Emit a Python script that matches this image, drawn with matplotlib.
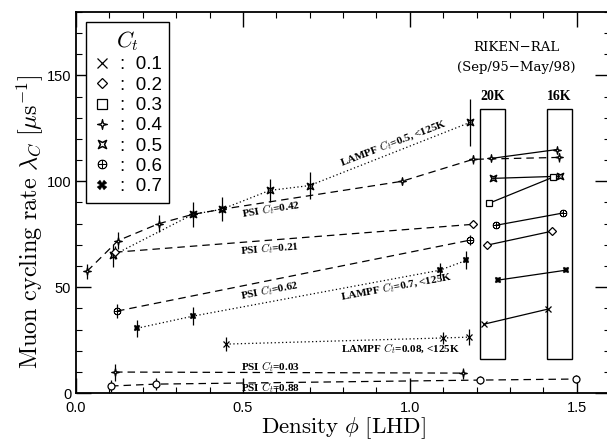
import numpy as np
import matplotlib
matplotlib.use('Agg')
import matplotlib.pyplot as plt
from matplotlib.path import Path
from matplotlib.lines import Line2D
from matplotlib.patches import Rectangle

plt.rcParams['mathtext.fontset'] = 'cm'

# ---- data ----
# LAMPF Ct=0.5, <125K  (dotted)
l05_x = [0.11, 0.35, 0.437, 0.58, 0.70, 1.18]
l05_y = [65, 84.4, 86.8, 95.7, 98, 127.8]
l05_e = [5.5, 6, 5.7, 5.5, 6.5, 11]
# PSI Ct=0.42 (dashed)
p42_x = [0.033, 0.126, 0.248, 0.35, 0.437, 0.976, 1.19, 1.446]
p42_y = [57.5, 72, 80, 84.4, 86.8, 100, 110.4, 111.3]
p42_e = [3.5, 4, 4, 0, 0, 1.5, 2, 2]
# PSI Ct=0.21
p21_x = [0.117, 1.19]
p21_y = [66.5, 79.7]
p21_e = [3, 1.5]
# PSI Ct=0.62
p62_x = [0.123, 1.18]
p62_y = [38.7, 72.2]
p62_e = [3.5, 2.5]
# LAMPF Ct=0.7, <125K
l07_x = [0.183, 0.35, 1.09, 1.17]
l07_y = [30.6, 36.3, 58, 62.7]
l07_e = [4, 4.3, 3.5, 4.3]
# LAMPF Ct=0.08, <125K
l008_x = [0.449, 1.10, 1.177]
l008_y = [23.1, 26, 26.4]
l008_e = [3.4, 2.9, 3.7]
# PSI Ct=0.03
p03_x = [0.117, 1.16]
p03_y = [9.9, 9.4]
p03_e = [4, 2.6]
# PSI Ct=0.88
p88_x = [0.105, 0.24, 1.21, 1.497]
p88_y = [3.3, 4.2, 6.1, 6.6]
p88_e = [3, 3, 2, 2]

# RIKEN-RAL, 20K -> 16K pairs
rk_ct = ['0.4', '0.5', '0.3', '0.6', '0.2', '0.7', '0.1']
rk_x20 = [1.243, 1.249, 1.237, 1.257, 1.23, 1.263, 1.222]
rk_y20 = [110.8, 101.4, 89.6, 79.2, 69.8, 53.3, 32.5]
rk_x16 = [1.44, 1.449, 1.43, 1.458, 1.425, 1.467, 1.413]
rk_y16 = [115, 102.4, 102, 85, 76.4, 58, 39.6]

legend_ct = ['0.1', '0.2', '0.3', '0.4', '0.5', '0.6', '0.7']

# ---- marker shapes ----
concave_sq = Path([(-1, -1), (0, -0.5), (1, -1), (0.5, 0), (1, 1), (0, 0.5),
                   (-1, 1), (-0.5, 0), (-1, -1)], closed=True)
star4 = Path([(0, 1.6), (0.3, 0.3), (1.6, 0), (0.3, -0.3), (0, -1.6), (-0.3, -0.3),
              (-1.6, 0), (-0.3, 0.3), (0, 1.6)], closed=True)

mk = {
    '0.1': dict(marker='x', ms=5, mew=0.9),
    '0.2': dict(marker='D', ms=4, mfc='white', mew=0.9),
    '0.3': dict(marker='s', ms=5, mfc='white', mew=0.9),
    '0.4': dict(marker=star4, ms=5.5, mfc='white', mew=0.9),
    '0.5': dict(marker=concave_sq, ms=4.5, mfc='none', mew=1.1),
    '0.6': dict(marker=r'$\oplus$', ms=5, mew=0.5),
    '0.7': dict(marker='X', ms=5, mew=0.2),
}

fig = plt.figure(figsize=(6.07, 4.40), dpi=100)
ax = fig.add_axes([76 / 607, 47 / 440, 534 / 607, 381 / 440])


def series(x, y, e, ct, ls, lw=0.9):
    ax.errorbar(x, y, yerr=e, fmt='none', ecolor='k', elinewidth=0.9, capsize=0, zorder=2)
    ax.plot(x, y, color='k', ls=ls, lw=lw, zorder=3, **mk[ct])


dashed = (0, (6, 4))
dotted = (0, (1, 2))
series(p42_x, p42_y, p42_e, '0.4', dashed)
series(l05_x, l05_y, l05_e, '0.5', dotted)
series(p21_x, p21_y, p21_e, '0.2', dashed)
series(p62_x, p62_y, p62_e, '0.6', dashed)
series(l07_x, l07_y, l07_e, '0.7', dotted)
series(l008_x, l008_y, l008_e, '0.1', dotted)
series(p03_x, p03_y, p03_e, '0.4', dashed)
ax.errorbar(p88_x, p88_y, yerr=p88_e, fmt='none', ecolor='k', elinewidth=0.9, capsize=0)
ax.plot(p88_x, p88_y, color='k', ls=dashed, lw=0.9, marker='o', ms=5, mfc='white', mew=0.9)

for i, ct in enumerate(rk_ct):
    ax.plot([rk_x20[i], rk_x16[i]], [rk_y20[i], rk_y16[i]], color='k', lw=0.9, zorder=3, **mk[ct])

# boxes around the 20K and 16K points
for bx, lab in [(1.21, '20K'), (1.41, '16K')]:
    ax.add_patch(Rectangle((bx, 16), 0.076, 118.4, fill=False, ec='k', lw=1.0))
    ax.text(bx + 0.038, 137, lab, ha='center', va='bottom', fontsize=10,
            family='Liberation Serif', weight='bold')
ax.text(1.318, 163, 'RIKEN\u2212RAL', ha='center', va='center', fontsize=9.5, family='DejaVu Serif')
ax.text(1.318, 154, '(Sep/95\u2212May/98)', ha='center', va='center', fontsize=9.5, family='DejaVu Serif')

# in-plot labels
lbl = dict(fontsize=8, family='Liberation Serif', weight='bold', ha='center', va='center')
ax.text(0.95, 118, r'LAMPF $C_t$=0.5, <125K', rotation=21, **lbl)
ax.text(0.585, 87, r'PSI $C_t$=0.42', rotation=9, **lbl)
ax.text(0.58, 68.4, r'PSI $C_t$=0.21', rotation=4.5, **lbl)
ax.text(0.58, 48.6, r'PSI $C_t$=0.62', rotation=11, **lbl)
ax.text(0.96, 50.5, r'LAMPF $C_t$=0.7, <125K', rotation=10.5, **lbl)
ax.text(0.973, 21.2, r'LAMPF $C_t$=0.08, <125K', **lbl)
ax.text(0.583, 12.7, r'PSI $C_t$=0.03', **lbl)
ax.text(0.583, 2.4, r'PSI $C_t$=0.88', **lbl)

# legend
handles = [Line2D([], [], color='k', ls='none', **dict(mk[c], ms=mk[c]['ms'] * 1.3)) for c in legend_ct]
leg = ax.legend(handles, [':  ' + c for c in legend_ct], title=r'$C_t$', loc='upper left',
                bbox_to_anchor=(0.019, 0.974), borderaxespad=0, fancybox=False,
                edgecolor='k', framealpha=1, handlelength=0.9, handletextpad=0.5,
                labelspacing=0.17, borderpad=0.4,
                prop={'family': 'Liberation Sans', 'size': 13.5}, title_fontsize=16)
leg.get_frame().set_linewidth(1.0)

ax.set_xlim(0, 1.6)
ax.set_ylim(0, 180)
ax.set_xticks([0, 0.5, 1.0, 1.5])
ax.set_xticklabels(['0.0', '0.5', '1.0', '1.5'])
ax.set_xticks(np.arange(0, 1.61, 0.1), minor=True)
ax.set_yticks([0, 50, 100, 150])
ax.set_yticks(np.arange(0, 181, 10), minor=True)
ax.tick_params(which='both', direction='in', top=True, right=True, labelsize=10.5)
ax.tick_params(which='major', length=11, width=1)
ax.tick_params(axis='x', which='major', pad=6)
ax.tick_params(which='minor', length=4, width=0.8)
for lab in ax.get_xticklabels() + ax.get_yticklabels():
    lab.set_family('Liberation Sans')
for s in ax.spines.values():
    s.set_linewidth(1.3)

ax.set_xlabel(r'$\mathrm{Density}\ \phi\ [\mathrm{LHD}]$', fontsize=16.5, va='center')
ax.xaxis.set_label_coords(0.5, -0.092)
ax.set_ylabel(r'$\mathrm{Muon\ cycling\ rate}\ \lambda_C\ [\mu\mathrm{s}^{-1}]$', fontsize=17.5, va='center')
ax.yaxis.set_label_coords(-0.086, 0.45)

fig.savefig('out.png', dpi=100)
